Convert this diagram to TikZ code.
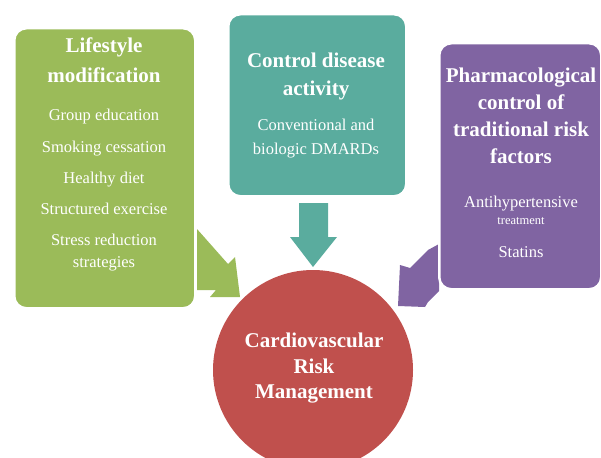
\documentclass[tikz,border=0pt]{standalone}
\usepackage{fontspec}
\setmainfont{Liberation Serif}
\definecolor{cgreen}{HTML}{9BBB59}
\definecolor{cteal}{HTML}{5AAC9E}
\definecolor{cpurple}{HTML}{8064A2}
\definecolor{cred}{HTML}{C0504D}
\begin{document}
\begin{tikzpicture}[x=1pt,y=-1pt,
  box/.style={draw=white,line width=2.5pt,rounded corners=12pt,inner sep=0pt,anchor=north west},
  ttl/.style={text=white,font=\fontsize{21}{25}\selectfont\bfseries,inner sep=0pt,anchor=base},
  itm/.style={text=white,font=\fontsize{16.5}{20}\selectfont,inner sep=0pt,anchor=base},
  sml/.style={text=white,font=\fontsize{12.5}{15}\selectfont,inner sep=0pt,anchor=base},
  blk/.style={draw=none}]
\useasboundingbox (0,0) rectangle (601,457);
\clip (0,0) rectangle (601,457);
% block arrows
\fill[cgreen] (197,229) -- (228,264) -- (235,257) -- (240,297) -- (210,297) -- (216,290) -- (197,290) -- cycle;
\fill[cpurple] (439,244) -- (428,250) -- (410,268) -- (400,265) -- (398,306) -- (425,307) -- (428,302) -- (439,291) -- cycle;
\fill[cteal] (299,203) -- (328,203) -- (328,237) -- (337,237) -- (313,267) -- (290,237) -- (299,237) -- cycle;
% boxes
\node[box,fill=cgreen,minimum width=181pt,minimum height=280pt] (life) at (13,27) {};
\node[box,fill=cteal,minimum width=178pt,minimum height=182pt] (ctrl) at (227,13) {};
\node[box,fill=cpurple,minimum width=162pt,minimum height=246pt] (pharm) at (438,42) {};
\node[circle,fill=cred,minimum size=200pt,inner sep=0pt] (cvr) at (313,370) {};
% green texts
\node[ttl] (l1) at (104,53) {Lifestyle};
\node[ttl] (l2) at (104,83) {modification};
\node[itm] (l3) at (104,121) {Group education};
\node[itm] (l4) at (104,152) {Smoking cessation};
\node[itm] (l5) at (104,183) {Healthy diet};
\node[itm] (l6) at (104,214) {Structured exercise};
\node[itm] (l7) at (104,245) {Stress reduction};
\node[itm] (l8) at (104,267) {strategies};
% teal texts
\node[ttl] (c1) at (316,68) {Control disease};
\node[ttl] (c2) at (316,96) {activity};
\node[itm] (c3) at (316,131) {Conventional and};
\node[itm] (c4) at (316,154) {biologic DMARDs};
% purple texts
\node[ttl] (p1) at (521,83) {Pharmacological};
\node[ttl] (p2) at (521,110) {control of};
\node[ttl] (p3) at (521,137) {traditional risk};
\node[ttl] (p4) at (521,163) {factors};
\node[itm] (p5) at (521,207) {Antihypertensive};
\node[sml] (p6) at (521,224) {treatment};
\node[itm] (p7) at (521,257) {Statins};
% circle texts
\node[ttl] (r1) at (314,347) {Cardiovascular};
\node[ttl] (r2) at (314,373) {Risk};
\node[ttl] (r3) at (314,398) {Management};
\end{tikzpicture}
\end{document}
